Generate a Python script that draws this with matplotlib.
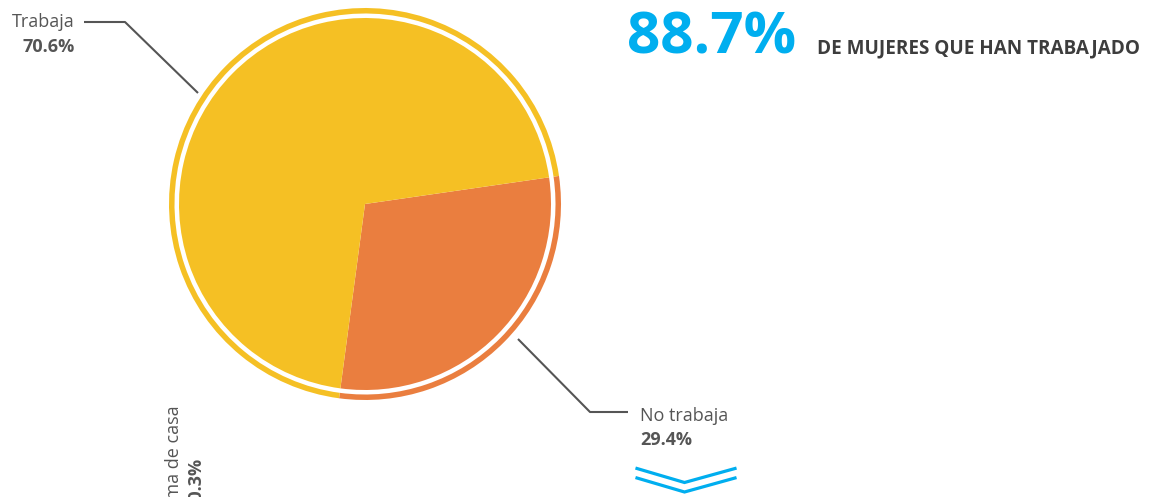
import numpy as np
import matplotlib.pyplot as plt

W, H = 1163, 497

# data
labels = ["No trabaja", "Trabaja"]
shares = [29.4, 70.6]
pct_text = ["29.4%", "70.6%"]
headline_value = "88.7%"
headline_text = "DE MUJERES QUE HAN TRABAJADO"
next_label = "Ama de casa"
next_value = "10.3%"

YELLOW, ORANGE, BLUE = "#F5C024", "#EA7E3F", "#00AEEF"
GREY, DARK = "#555555", "#3D3D3D"
plt.rcParams["font.family"] = ["Open Sans", "DejaVu Sans"]

fig = plt.figure(figsize=(W / 100, H / 100), dpi=100)
ax = fig.add_axes([0, 0, 1, 1])


def iy(y):
    return H - y  # image row -> axis y


cx, cy = 365, iy(204)
start = -97.6
ax.pie(shares, colors=[ORANGE, YELLOW], startangle=start, center=(cx, cy), radius=186,
       wedgeprops=dict(linewidth=0))
ax.pie(shares, colors=[ORANGE, YELLOW], startangle=start, center=(cx, cy), radius=196,
       wedgeprops=dict(width=5.5, linewidth=0))
ax.set_xlim(0, W); ax.set_ylim(0, H); ax.set_aspect("equal"); ax.axis("off")

# leader lines
ax.plot([84, 125, 198], [iy(22), iy(22), iy(93)], color=GREY, lw=1.5, solid_capstyle="butt")
ax.plot([518, 590, 628], [iy(339), iy(412), iy(412)], color=GREY, lw=1.5, solid_capstyle="butt")

ax.text(75, iy(27), labels[1], ha="right", va="baseline", fontsize=13, color=GREY)
ax.text(75, iy(52), pct_text[1], ha="right", va="baseline", fontsize=13, color=GREY,
        fontweight="bold")
ax.text(640, iy(421), labels[0], ha="left", va="baseline", fontsize=13, color=GREY)
ax.text(640, iy(445), pct_text[0], ha="left", va="baseline", fontsize=13, color=GREY,
        fontweight="bold")

# partial label of the next chart (clipped at the bottom edge, as in the source)
ax.text(183, iy(405), next_label, rotation=90, ha="right", va="top", fontsize=13, color=GREY)
ax.text(205, iy(457), next_value, rotation=90, ha="right", va="top", fontsize=13,
        color=GREY, fontweight="bold")

# headline
ax.text(627, iy(53), headline_value, ha="left", va="baseline", fontsize=42, color=BLUE,
        fontweight="bold")
ax.text(817, iy(53), headline_text, ha="left", va="baseline", fontsize=13.6, color=DARK,
        fontweight="bold")

# double chevron
for dy in (0, 9.5):
    ax.plot([637, 684.5, 735], [iy(468.5 + dy), iy(482.5 + dy), iy(468.5 + dy)],
            color=BLUE, lw=2.3, solid_joinstyle="miter")

fig.savefig("out.png", dpi=100)
